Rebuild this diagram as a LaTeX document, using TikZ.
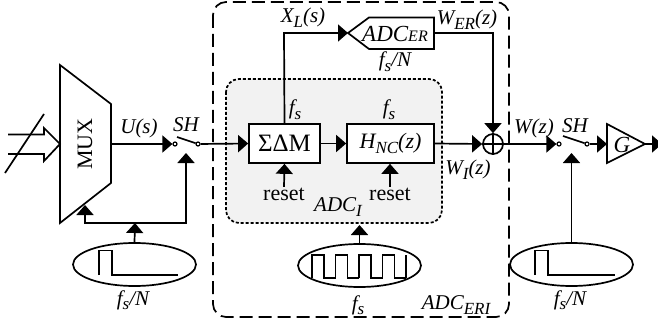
\documentclass[tikz,border=0pt]{standalone}
\usepackage{fontspec}
\setmainfont{Liberation Serif}
\usetikzlibrary{arrows.meta,shapes.geometric}
\definecolor{shade}{HTML}{F2F2F2}
\newcommand{\subtxt}[1]{\raisebox{-0.22em}{\fontsize{17}{17}\selectfont #1}}
\tikzset{
    blockbox/.style={draw,rectangle,fill=white,inner sep=0pt},
    tinycirc/.style={draw,circle,fill=white,inner sep=0pt,minimum size=4pt,line width=1.2pt},
    clockell/.style={draw,ellipse,inner sep=0pt,minimum width=123pt,minimum height=43pt},
    lab/.style={inner sep=0pt,font=\fontsize{21}{21}\selectfont\itshape},
    rmlab/.style={inner sep=0pt,font=\fontsize{22}{22}\selectfont}
}

\begin{document}
\begin{tikzpicture}[x=1pt,y=-1pt,line width=1.7pt,>={Triangle[length=10pt,width=17pt]}]
\useasboundingbox (0,0) rectangle (658,326);

% frames
\draw[fill=shade,rounded corners=13pt,dash pattern=on 3pt off 2pt] (226,79) rectangle (442,223);
\draw[rounded corners=13pt,dash pattern=on 13pt off 6pt] (213,2) rectangle (509,317);

% mux and its input
\draw (60,65) -- (111,104) -- (111,183) -- (60,223) -- cycle;
\node[rmlab,rotate=90] (mux) at (85,144) {MUX};
\coordinate (muxout) at (111,144);
\coordinate (muxin) at (85,205);
\draw (8,134.5) -- (44,134.5) -- (44,128) -- (60,144) -- (44,161) -- (44,154) -- (8,154);
\draw (5,173) -- (44,114);

% blocks
\begin{scope}[every node/.style={blockbox}]
    \node[minimum width=71pt,minimum height=39pt] (sdm) at (284.5,143.5) {\fontsize{25}{25}\selectfont ΣΔM};
    \node[minimum width=87pt,minimum height=39pt] (hnc) at (390.5,143.5) {\fontsize{22}{22}\selectfont\itshape H\subtxt{NC}(z)};
\end{scope}
\draw (348,33) -- (369,17.5) -- (434,17.5) -- (434,49) -- (369,49) -- cycle;
\node[lab] (adcer) at (395,34) {\fontsize{23}{23}\selectfont ADC\fontsize{16}{16}\selectfont ER};
\coordinate (adctip) at (348,33);
\coordinate (adcout) at (434,33);
\draw (607,124) -- (607,163) -- (645,144) -- cycle;
\node[lab,font=\fontsize{23}{23}\selectfont\itshape] (gain) at (622,145) {G};
\coordinate (gainin) at (607,144);
\coordinate (gainout) at (645,144);
\coordinate (outend) at (662,144);

% sum
\node[draw,circle,inner sep=0pt,minimum size=20pt] (sum) at (493,144) {};
\draw (sum.north) -- (sum.south);
\draw (sum.west) -- (sum.east);

% switches
\node[tinycirc] (swa) at (175,144) {};
\node[tinycirc] (swb) at (198,144) {};
\node[tinycirc] (swc) at (559,144) {};
\node[tinycirc] (swd) at (587,144) {};
\coordinate (swat) at (177,137);
\coordinate (swct) at (563,136);
\coordinate (swactl) at (186,153);
\coordinate (swcctl) at (571.5,153);
\draw (swat) -- (swb);
\draw (swct) -- (swd);

% clocks
\node[clockell] (clka) at (134.5,264.5) {};
\node[clockell] (clkb) at (359.5,265.5) {};
\node[clockell] (clkc) at (571.5,264.5) {};
\draw (99,275) -- (99,250.5) -- (112,250.5) -- (112,275) -- (178,275);
\draw (535,275) -- (535,250.5) -- (548,250.5) -- (548,275) -- (615,275);
\foreach \xa in {312,335.5,359,382.5}
    \draw (\xa,278) -- (\xa,255) -- (\xa+12,255) -- (\xa+12,278) -- (\xa+23.5,278);
\draw (406,278) -- (406,255);

% resets
\node[rmlab] (resa) at (284,194) {reset};
\node[rmlab] (resb) at (390,194) {reset};
\coordinate (sdmup) at (284,33);
\coordinate (wercorner) at (493,33);
\coordinate (busleft) at (85,223);
\coordinate (busmid) at (135,223);
\coordinate (busright) at (186,223);
\coordinate (graybox) at (359.5,225);

% connectors
\draw[->] (muxout) -- (swa.west);
\draw[->] (swb) -- (sdm.west);
\draw[->] (sdm.east) -- (hnc.west);
\draw[->] (hnc.east) -- (sum.west);
\draw[->] (sum.east) -- (swc.west);
\draw[->] (swd) -- (gainin);
\draw[->] (gainout) -- (outend);
\draw[->] (sdm.north) -- (sdmup) -- (adctip);
\draw[->] (adcout) -- (wercorner) -- (sum.north);
\draw[->] (resa.north) -- (sdm.south);
\draw[->] (resb.north) -- (hnc.south-|resb);
\draw[->] (clka.north) -- (busmid);
\draw[->] (busmid) -- (busleft) -- (muxin);
\draw[->] (busmid) -- (busright) -- (swactl);
\draw[->] (clkb.north) -- (graybox);
\draw[->] (clkc.north) -- (swcctl);

% labels
\node[lab] (lu) at (139,128) {U(s)};
\node[lab] (lsha) at (186,125) {SH};
\node[lab] (lxl) at (303,18) {X\subtxt{L}(s)};
\node[lab] (lfn) at (395,62) {f\subtxt{s}/N};
\node[lab] (lwer) at (467,20) {W\subtxt{ER}(z)};
\node[lab] (lfa) at (295,110) {f\subtxt{s}};
\node[lab] (lfb) at (389,110) {f\subtxt{s}};
\node[lab] (lwi) at (468,170) {W\subtxt{I}(z)};
\node[lab] (lw) at (534,128) {W(z)};
\node[lab] (lshb) at (575,126) {SH};
\node[lab] (ladci) at (338,207) {ADC\subtxt{I}};
\node[lab] (lfna) at (133,300) {f\subtxt{s}/N};
\node[lab] (lfc) at (358,305) {f\subtxt{s}};
\node[lab] (lfnb) at (570,300) {f\subtxt{s}/N};
\node[lab] (leri) at (456,305) {ADC\subtxt{ERI}};
\end{tikzpicture}
\end{document}
